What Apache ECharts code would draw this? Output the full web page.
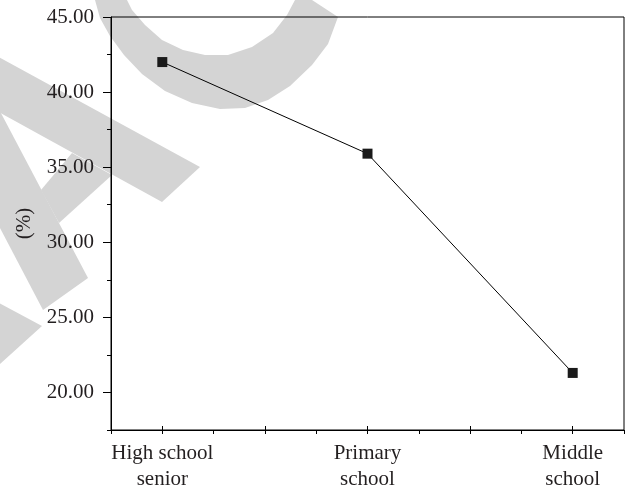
<!DOCTYPE html>
<html>
<head>
<meta charset="utf-8">
<script src="https://cdn.jsdelivr.net/npm/echarts@6/dist/echarts.min.js"></script>
<style>
html,body{margin:0;padding:0;background:#fff;}
#chart{width:637px;height:492px;}
</style>
</head>
<body>
<div id="chart"></div>
<script>
// ---- data ----
var categories = ['High school\nsenior', 'Primary\nschool', 'Middle\nschool'];
var values = [42.0, 35.9, 21.3];
var yTickLabels = ['20.00', '25.00', '30.00', '35.00', '40.00', '45.00'];
var yName = '(%)';

var FONT = 'Liberation Serif';
var TXT = '#231f20';
var GRAY = '#d4d4d4';

var seriesData = values.map(function (v, i) { return [i, v]; });

var chart = echarts.init(document.getElementById('chart'), null, {renderer: 'canvas'});

var L = 111, T = 17, W = 513, H = 413;
var yMin = 17.5, yMax = 45;
var xMin = -0.25, xMax = 2.25;
var pxPerY = H / (yMax - yMin);
var pxPerX = W / (xMax - xMin);

var option = {
  backgroundColor: '#fff',
  animation: false,
  graphic: [
    {type: 'polygon', z: -10, silent: true, shape: {points: [[95,0],[100,18],[110,36],[124,55],[142,74],[165,91],[192,103],[220,109],[245,108],[268,100],[290,86],[312,65],[328,44],[338,17],[312,0],[295,0],[287,15],[273,33],[252,47],[228,55],[205,55],[183,50],[162,40],[145,25],[132,10],[127,0]]}, style: {fill: GRAY}},
    {type: 'polygon', z: -10, silent: true, shape: {points: [[-5,55],[200,167],[162,202],[-5,110]]}, style: {fill: GRAY}},
    {type: 'polygon', z: -10, silent: true, shape: {points: [[72,153],[112,175],[59,223],[41,190]]}, style: {fill: GRAY}},
    {type: 'polygon', z: -10, silent: true, shape: {points: [[-6,100],[88,278],[43,310],[-67,100]]}, style: {fill: GRAY}},
    {type: 'polygon', z: -10, silent: true, shape: {points: [[-10,298],[42,326],[-10,373]]}, style: {fill: GRAY}}
  ],
  grid: [
    {left: L, top: T, width: W, height: H, show: true, borderColor: '#000', borderWidth: 1, backgroundColor: 'transparent', containLabel: false},
    {left: L, top: T, width: W, height: (45 - 20) * pxPerY, containLabel: false},
    {left: L + (0 - xMin) * pxPerX, top: T, width: 2 * pxPerX, height: H, containLabel: false}
  ],
  xAxis: [
    {gridIndex: 0, type: 'value', min: xMin, max: xMax, interval: 0.25,
     axisLine: {show: true, onZero: false, lineStyle: {color: '#000', width: 1}},
     axisTick: {show: true, length: 4, lineStyle: {color: '#000'}},
     axisLabel: {show: false}, splitLine: {show: false}},
    {gridIndex: 1, type: 'value', min: 0, max: 1, show: false},
    {gridIndex: 2, type: 'value', min: 0, max: 2, interval: 0.5,
     axisLine: {show: false, onZero: false},
     axisTick: {show: true, length: 7, lineStyle: {color: '#000'}},
     axisLabel: {show: true, margin: 14, color: TXT, fontFamily: FONT, fontSize: 21, lineHeight: 26,
       formatter: function (v) { return (Math.abs(v - Math.round(v)) < 1e-9) ? categories[Math.round(v)] : ''; }},
     splitLine: {show: false}}
  ],
  yAxis: [
    {gridIndex: 0, type: 'value', min: yMin, max: yMax, interval: 2.5,
     name: yName, nameLocation: 'middle', nameGap: 76,
     nameTextStyle: {color: TXT, fontFamily: FONT, fontSize: 21},
     axisLine: {show: true, onZero: false, lineStyle: {color: '#000', width: 1}},
     axisTick: {show: true, length: 4, lineStyle: {color: '#000'}},
     axisLabel: {show: false}, splitLine: {show: false}},
    {gridIndex: 1, type: 'value', min: 20, max: 45, interval: 5,
     axisLine: {show: false, onZero: false},
     axisTick: {show: true, length: 8, lineStyle: {color: '#000'}},
     axisLabel: {show: true, margin: 17, color: TXT, fontFamily: FONT, fontSize: 21,
       formatter: function (v) { var i = Math.round((v - 20) / 5); return yTickLabels[i]; }},
     splitLine: {show: false}},
    {gridIndex: 2, type: 'value', min: 0, max: 1, show: false}
  ],
  series: [
    {type: 'line', xAxisIndex: 0, yAxisIndex: 0, data: seriesData,
     symbol: 'rect', symbolSize: 10, showAllSymbol: true,
     itemStyle: {color: '#1a1a1a', borderWidth: 0},
     lineStyle: {color: '#000', width: 1},
     z: 5}
  ]
};
chart.setOption(option);
</script>
</body>
</html>
